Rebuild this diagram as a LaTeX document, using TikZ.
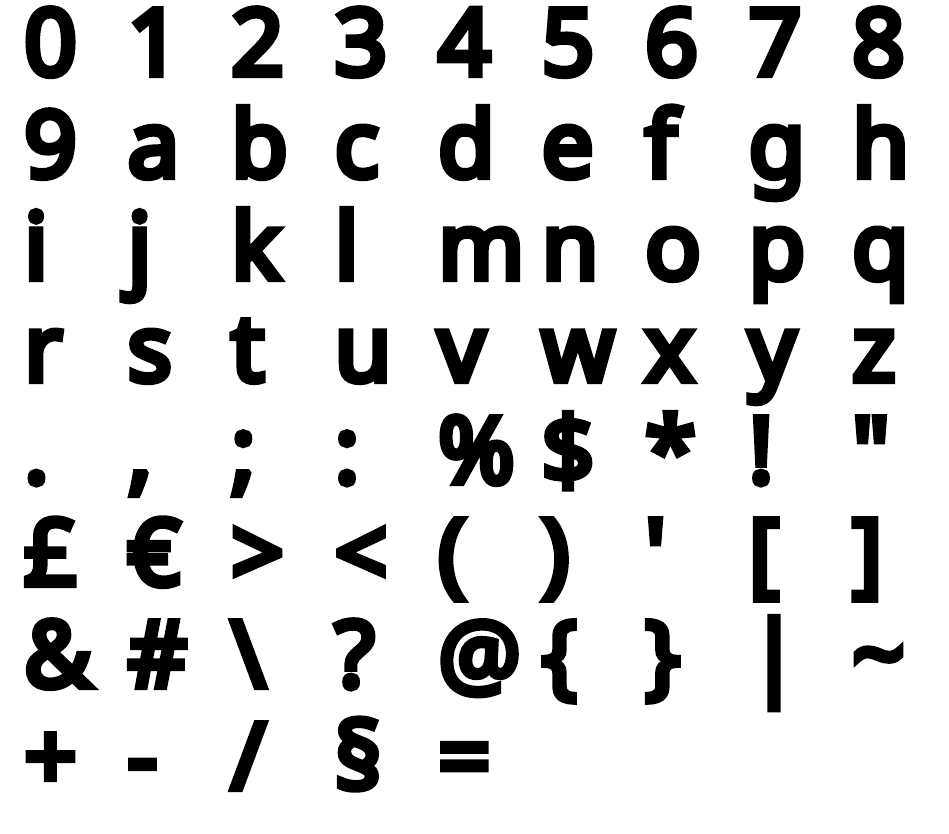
\documentclass[tikz,border=0pt]{standalone}
\usepackage{fontspec}
\setmainfont{Noto Sans}[BoldFont = {Noto Sans}, BoldFeatures = {FakeBold = 7}]

\begin{document}
\begin{tikzpicture}[
    x = 1pt, y = -1pt,
    glyph/.style = {anchor = base west,
      inner sep = 0pt,
      font = \fontsize{92}{92}\selectfont\bfseries},
    ]

    \useasboundingbox (0, 0) rectangle (949, 833);

    % one row of the specimen per loop
    \foreach \ch [count = \i from 0] in {0,1,2,3,4,5,6,7,8}
    \node at (24 + 103.5 * \i, 75) [glyph, name = g-0-\i] {\ch};
    \foreach \ch [count = \i from 0] in {9,a,b,c,d,e,f,g,h}
    \node at (24 + 103.5 * \i, 177) [glyph, name = g-1-\i] {\ch};
    \foreach \ch [count = \i from 0] in {i,j,k,l,m,n,o,p,q}
    \node at (24 + 103.5 * \i, 279) [glyph, name = g-2-\i] {\ch};
    \foreach \ch [count = \i from 0] in {r,s,t,u,v,w,x,y,z}
    \node at (24 + 103.5 * \i, 381) [glyph, name = g-3-\i] {\ch};
    \foreach \ch [count = \i from 0] in {.,{,},{;},:,\%,\$,*,!,\textquotedbl}
    \node at (24 + 103.5 * \i, 483) [glyph, name = g-4-\i] {\ch};
    \foreach \ch [count = \i from 0] in {£,€,>,<,{(},{)},\textquotesingle,[,]}
    \node at (24 + 103.5 * \i, 585) [glyph, name = g-5-\i] {\ch};
    \foreach \ch [count = \i from 0] in {\&,\#,\textbackslash,?,@,\{,\},\textbar,\textasciitilde}
    \node at (24 + 103.5 * \i, 687) [glyph, name = g-6-\i] {\ch};
    \foreach \ch [count = \i from 0] in {+,-,{/},§,=}
    \node at (24 + 103.5 * \i, 789) [glyph, name = g-7-\i] {\ch};
  \end{tikzpicture}
\end{document}
